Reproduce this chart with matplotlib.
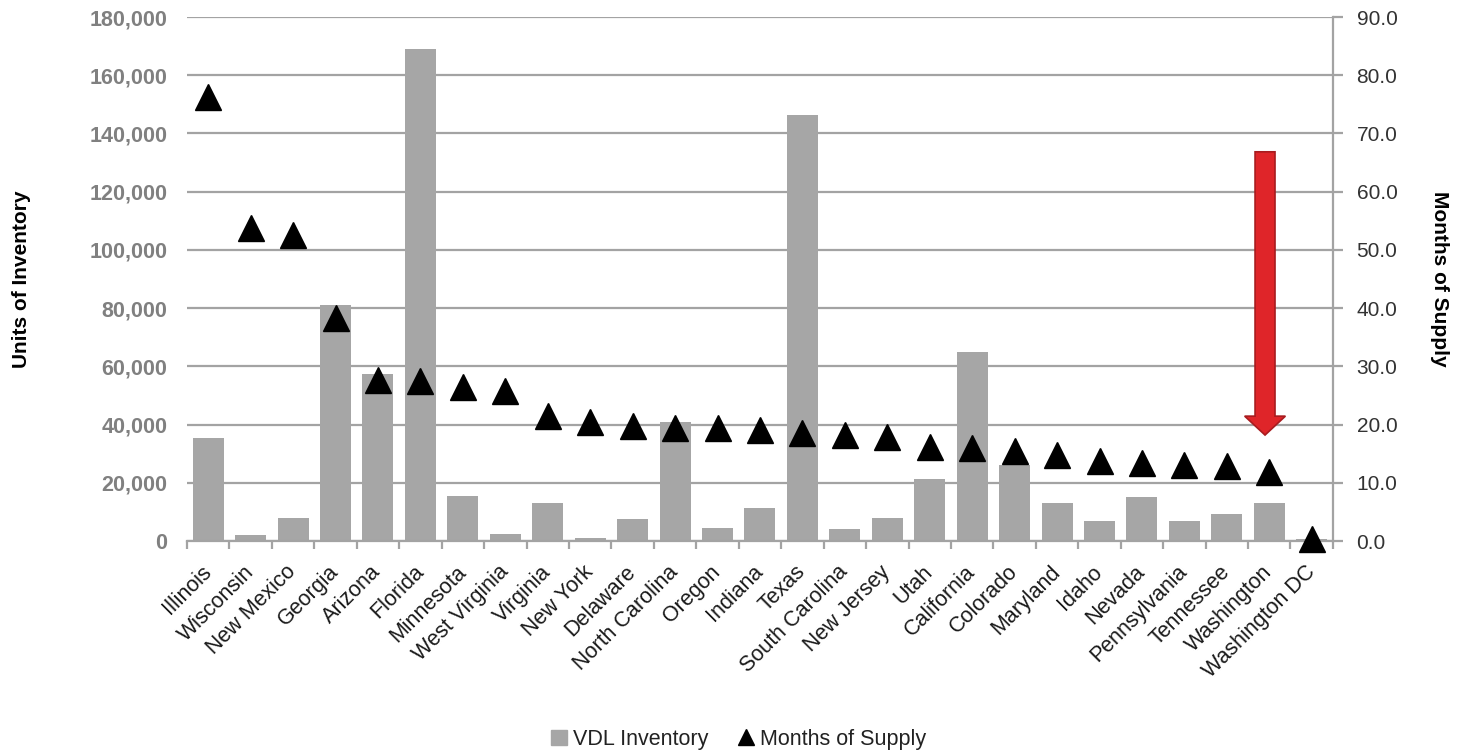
import matplotlib
matplotlib.use("Agg")
import matplotlib.pyplot as plt
import numpy as np
from matplotlib.lines import Line2D
from matplotlib.patches import FancyArrow, Patch
from matplotlib.ticker import FuncFormatter, MultipleLocator

plt.rcParams["font.family"] = ["Liberation Sans", "DejaVu Sans"]

states = ["Illinois", "Wisconsin", "New Mexico", "Georgia", "Arizona", "Florida",
          "Minnesota", "West Virginia", "Virginia", "New York", "Delaware",
          "North Carolina", "Oregon", "Indiana", "Texas", "South Carolina",
          "New Jersey", "Utah", "California", "Colorado", "Maryland", "Idaho",
          "Nevada", "Pennsylvania", "Tennessee", "Washington", "Washington DC"]
inventory = [35500, 2000, 8000, 81000, 57500, 169000, 15500, 2400, 13000, 1200,
             7500, 41000, 4500, 11500, 146500, 4200, 8000, 21300, 65000, 26000,
             13000, 7000, 15000, 7000, 9300, 13000, 700]
months = [76.3, 53.7, 52.5, 38.3, 27.7, 27.4, 26.5, 25.7, 21.4, 20.5, 19.7,
          19.4, 19.4, 19.1, 18.5, 18.2, 17.9, 16.2, 16.0, 15.4, 14.8, 13.7,
          13.4, 13.1, 12.9, 11.9, 0.3]

# red call-out arrow over Washington (units of inventory)
arrow_state = "Washington"
arrow_top, arrow_tip = 133700, 36400

GRID = "#A3A3A3"
BAR = "#A6A6A6"

fig = plt.figure(figsize=(14.63, 7.53), dpi=100)
ax = fig.add_axes([0.1278, 0.2815, 0.7833, 0.6959])
ax2 = ax.twinx()

x = np.arange(len(states))
ax.bar(x, inventory, width=0.73, color=BAR, zorder=2)
ax2.plot(x, months, ls="none", marker="^", ms=18.5, color="black", zorder=3,
         clip_on=False)

ax.set_xlim(-0.5, len(states) - 0.5)
ax.set_ylim(0, 180000)
ax2.set_ylim(0, 90)

ax.yaxis.set_major_locator(MultipleLocator(20000))
ax.yaxis.set_major_formatter(FuncFormatter(lambda v, p: f"{v:,.0f}"))
ax2.yaxis.set_major_locator(MultipleLocator(10))
ax2.yaxis.set_major_formatter(FuncFormatter(lambda v, p: f"{v:.1f}"))

ax.grid(axis="y", color=GRID, lw=1.6, zorder=0)
ax.set_axisbelow(True)

for a in (ax, ax2):
    for s in ("top", "left"):
        a.spines[s].set_visible(False)
ax.spines["right"].set_visible(False)
ax2.spines["bottom"].set_visible(False)
ax.spines["bottom"].set_color(GRID)
ax.spines["bottom"].set_linewidth(1.6)
ax2.spines["right"].set_color(GRID)
ax2.spines["right"].set_linewidth(1.6)

ax.tick_params(axis="y", length=0, pad=14, labelsize=15.5, labelcolor="#808080")
for t in ax.get_yticklabels():
    t.set_fontweight("bold")
ax2.tick_params(axis="y", length=7, width=1.6, color=GRID, pad=10,
                labelsize=15, labelcolor="#333333")

ax.set_xticks(x)
ax.set_xticks(np.arange(len(states) + 1) - 0.5, minor=True)
ax.set_xticklabels(states, rotation=45, ha="right", va="center",
                   rotation_mode="anchor", fontsize=15.5, color="#1a1a1a")
ax.tick_params(axis="x", which="major", length=0, pad=20)
ax.tick_params(axis="x", which="minor", length=6, width=1.6, color=GRID)

ax.set_ylabel("Units of Inventory", fontsize=15, fontweight="bold")
ax.yaxis.set_label_coords(-0.136, 0.5)
ax2.set_ylabel("Months of Supply", fontsize=15, fontweight="bold", rotation=-90,
               va="center")
ax2.yaxis.set_label_coords(1.093, 0.5)

xa = states.index(arrow_state) - 0.1
ax2.add_patch(FancyArrow(xa, arrow_top / 2000, 0, -(arrow_top - arrow_tip) / 2000,
                         width=0.47, head_width=0.96, head_length=3.25,
                         length_includes_head=True, fc="#DF2529", ec="#A81C1F",
                         lw=1.2, zorder=4))

handles = [Patch(color=BAR, label="VDL Inventory"),
           Line2D([], [], ls="none", marker="^", ms=11, color="black",
                  label="Months of Supply")]
fig.legend(handles=handles, loc="center", bbox_to_anchor=(0.505, 0.018), ncol=2,
           frameon=False, fontsize=15.5, handlelength=0.7, handletextpad=0.3,
           columnspacing=1.4, labelcolor="#222222")

fig.savefig("out.png", dpi=100)
